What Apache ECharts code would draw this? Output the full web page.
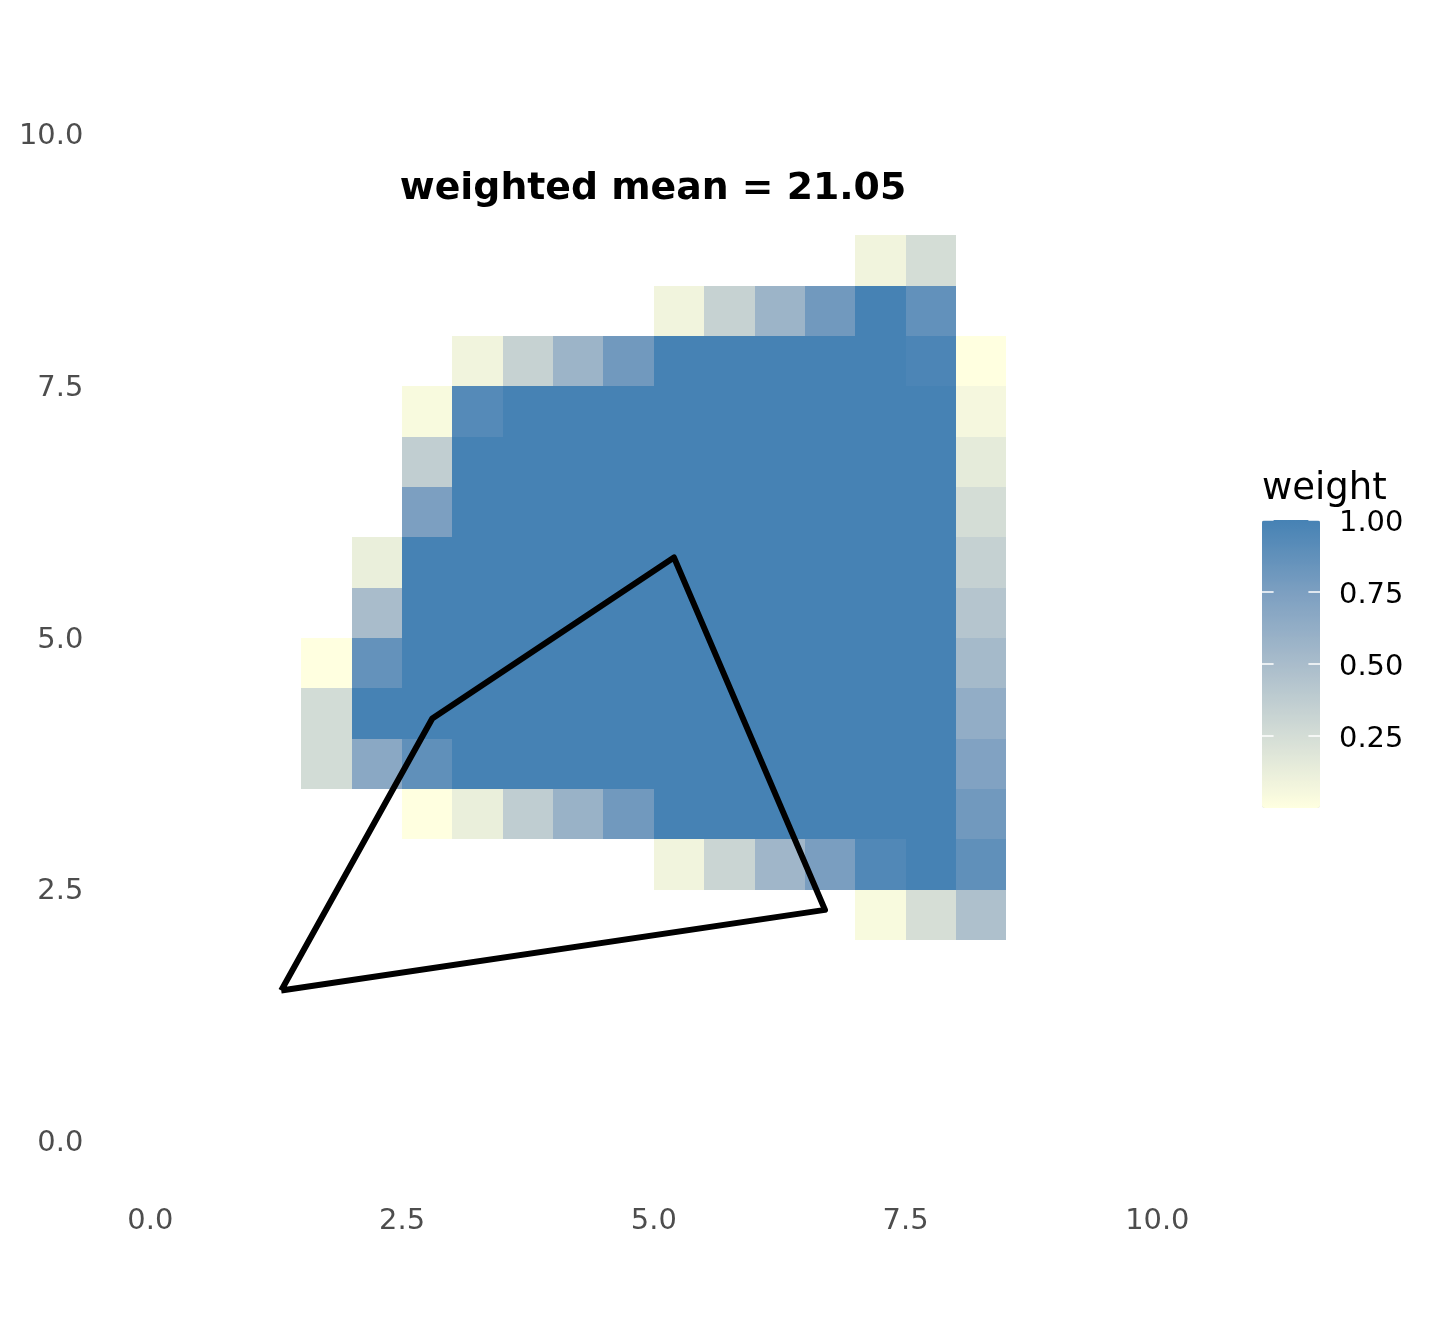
<!DOCTYPE html>
<html>
<head>
    <title>Weighted mean raster</title>
    <script src="https://cdn.jsdelivr.net/npm/echarts@6/dist/echarts.min.js"></script>
    <style>
        html, body { margin: 0; padding: 0; background: #fff; }
    </style>
</head>
<body>
<div id="chart" style="width: 1440px; height: 1320px;"></div>
<script>
    var axisTicks = [0, 2.5, 5, 7.5, 10];
    var legendTicks = [0.25, 0.5, 0.75, 1];

    // left edges of the columns, 1.5 to 8.0
    var colStart = [1.5, 2, 2.5, 3, 3.5, 4, 4.5, 5, 5.5, 6, 6.5, 7, 7.5, 8];
    // bottom edges of the rows, top row first
    var rowStart = [8.5, 8, 7.5, 7, 6.5, 6, 5.5, 5, 4.5, 4, 3.5, 3, 2.5, 2];
    var weights = [
        [null, null, null, null, null, null, null, null, null, null, null, 0.08, 0.25, null],
        [null, null, null, null, null, null, null, 0.08, 0.33, 0.57, 0.80, 1, 0.87, null],
        [null, null, null, 0.08, 0.33, 0.57, 0.80, 1, 1, 1, 1, 1, 0.97, 0],
        [null, null, 0.04, 0.93, 1, 1, 1, 1, 1, 1, 1, 1, 1, 0.06],
        [null, null, 0.36, 1, 1, 1, 1, 1, 1, 1, 1, 1, 1, 0.15],
        [null, null, 0.75, 1, 1, 1, 1, 1, 1, 1, 1, 1, 1, 0.25],
        [null, 0.12, 1, 1, 1, 1, 1, 1, 1, 1, 1, 1, 1, 0.34],
        [null, 0.50, 1, 1, 1, 1, 1, 1, 1, 1, 1, 1, 1, 0.43],
        [0, 0.86, 1, 1, 1, 1, 1, 1, 1, 1, 1, 1, 1, 0.52],
        [0.26, 1, 1, 1, 1, 1, 1, 1, 1, 1, 1, 1, 1, 0.63],
        [0.26, 0.67, 0.88, 1, 1, 1, 1, 1, 1, 1, 1, 1, 1, 0.72],
        [null, null, 0, 0.12, 0.37, 0.59, 0.80, 1, 1, 1, 1, 1, 1, 0.80],
        [null, null, null, null, null, null, null, 0.08, 0.31, 0.55, 0.76, 0.95, 1, 0.88],
        [null, null, null, null, null, null, null, null, null, null, null, 0.04, 0.24, 0.47]
    ];
    var polygon = [[1.3, 1.5], [2.8, 4.2], [5.2, 5.8], [6.7, 2.3], [1.3, 1.5]];

    var cells = [];
    rowStart.forEach(function (y, r) {
        colStart.forEach(function (x, c) {
            if (weights[r][c] !== null) {
                cells.push([x, y, weights[r][c]]);
            }
        });
    });

    var font = 'DejaVu Sans';

    function renderCell(params, api) {
        var x = api.value(0);
        var y = api.value(1);
        var a = api.coord([x, y + 0.5]);
        var b = api.coord([x + 0.5, y]);
        // snap to whole pixels so neighbouring cells leave no seam
        var x0 = Math.round(a[0]);
        var y0 = Math.round(a[1]);
        return {
            type: 'rect',
            shape: { x: x0, y: y0, width: Math.round(b[0]) - x0, height: Math.round(b[1]) - y0 },
            style: { fill: api.visual('color') }
        };
    }

    var chart = echarts.init(document.getElementById('chart'), null, { renderer: 'canvas' });

    var option = {
        animation: false,
        backgroundColor: '#fff',
        title: [{
            text: 'weighted mean = 21.05',
            left: 653,
            top: 149,
            textAlign: 'center',
            padding: 0,
            textStyle: { fontFamily: font, fontSize: 37.8, fontWeight: 'bold', color: '#000' }
        }, {
            text: 'weight',
            left: 1262,
            top: 453,
            padding: 0,
            textStyle: { fontFamily: font, fontSize: 37, fontWeight: 'normal', color: '#000' }
        }],
        grid: [
            { left: 150.3, top: 134.5, width: 1007, height: 1007 },
            { left: 1262, top: 520, width: 58, height: 288 }
        ],
        xAxis: [{
            type: 'value',
            min: 0,
            max: 10,
            interval: 2.5,
            splitLine: { show: false },
            axisLine: { show: false },
            axisTick: { show: false },
            axisLabel: {
                margin: 51,
                fontFamily: font,
                fontSize: 28.9,
                color: '#4D4D4D',
                customValues: axisTicks,
                formatter: function (v) { return v.toFixed(1); }
            }
        }, {
            gridIndex: 1,
            type: 'value',
            min: 0,
            max: 1,
            show: false
        }],
        yAxis: [{
            type: 'value',
            min: 0,
            max: 10,
            interval: 2.5,
            splitLine: { show: false },
            axisLine: { show: false },
            axisTick: { show: false },
            axisLabel: {
                margin: 67,
                verticalAlign: 'top',
                lineHeight: 4,
                fontFamily: font,
                fontSize: 28.9,
                color: '#4D4D4D',
                customValues: axisTicks,
                formatter: function (v) { return v.toFixed(1); }
            }
        }, {
            // colour bar ticks and labels, right side
            gridIndex: 1,
            type: 'value',
            position: 'right',
            min: 0,
            max: 1,
            z: 10,
            splitLine: { show: false },
            axisLine: { show: false, onZero: false },
            axisTick: {
                show: true,
                inside: true,
                length: 11.6,
                customValues: legendTicks,
                lineStyle: { color: '#fff', width: 1.5 }
            },
            axisLabel: {
                margin: 19,
                verticalAlign: 'top',
                lineHeight: 6,
                fontFamily: font,
                fontSize: 28.9,
                color: '#000',
                customValues: legendTicks,
                formatter: function (v) { return v.toFixed(2); }
            }
        }, {
            // colour bar ticks, left side
            gridIndex: 1,
            type: 'value',
            position: 'left',
            min: 0,
            max: 1,
            z: 10,
            splitLine: { show: false },
            axisLine: { show: false, onZero: false },
            axisLabel: { show: false },
            axisTick: {
                show: true,
                inside: true,
                length: 11.6,
                customValues: legendTicks,
                lineStyle: { color: '#fff', width: 1.5 }
            }
        }],
        visualMap: {
            type: 'continuous',
            seriesIndex: 0,
            dimension: 2,
            min: 0,
            max: 1,
            left: 1262,
            top: 520,
            padding: 0,
            itemWidth: 58,
            itemHeight: 288,
            calculable: false,
            hoverLink: false,
            showLabel: false,
            inRange: { color: ['#FFFFE0', '#D4DDD6', '#A9BCCB', '#7C9FC1', '#4682B4'] }
        },
        series: [{
            type: 'custom',
            renderItem: renderCell,
            data: cells,
            encode: { x: 0, y: 1 },
            silent: true
        }, {
            type: 'line',
            data: polygon,
            symbol: 'none',
            silent: true,
            z: 5,
            lineStyle: { color: '#000', width: 6, join: 'round' }
        }]
    };

    chart.setOption(option);
</script>
</body>
</html>
